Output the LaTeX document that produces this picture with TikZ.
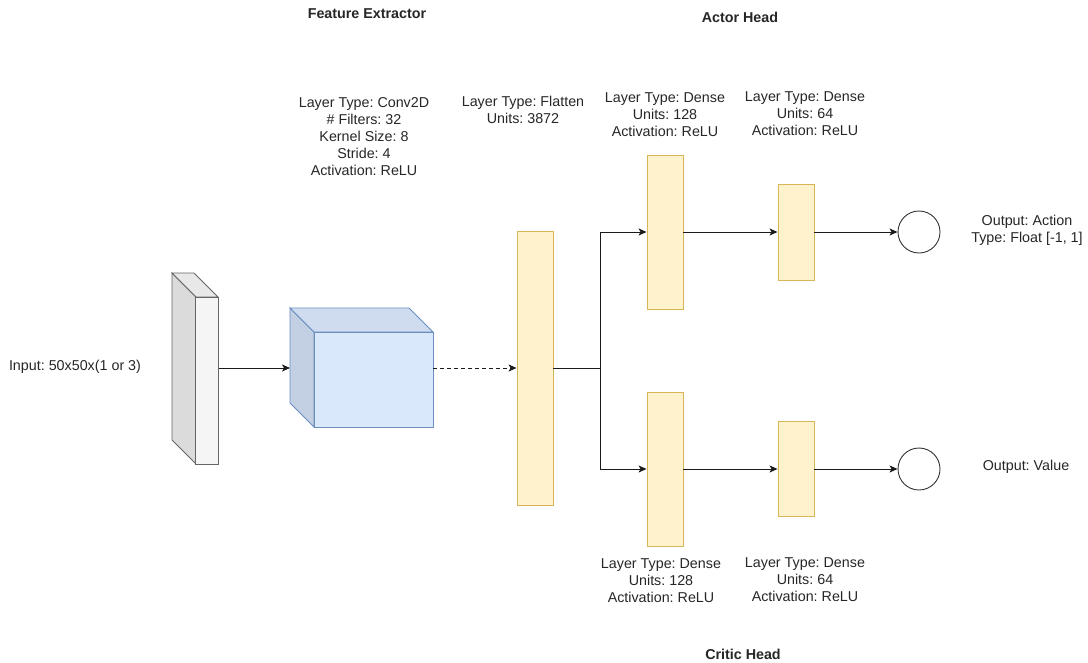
\documentclass[tikz,border=0pt]{standalone}
\usepackage{fontspec}
\setmainfont{Liberation Sans}
\usetikzlibrary{arrows.meta}
\frenchspacing
\definecolor{denseFill}{HTML}{FFF2CC}
\definecolor{denseLine}{HTML}{D6B656}
\definecolor{convFront}{HTML}{DAE8FC}
\definecolor{convTop}{HTML}{CFDCF0}
\definecolor{convSide}{HTML}{C3CFE2}
\definecolor{convLine}{HTML}{6C8EBF}
\definecolor{inFront}{HTML}{F5F5F5}
\definecolor{inTop}{HTML}{E8E8E8}
\definecolor{inSide}{HTML}{DBDBDB}
\definecolor{inLine}{HTML}{666666}
\definecolor{wire}{HTML}{1A1A1A}
\tikzset{
  lbl/.style={font=\fontsize{14.3}{17}\selectfont, align=center, text=black!85, inner sep=0pt},
  ttl/.style={font=\fontsize{14.3}{17}\selectfont\bfseries, text=black!85, inner sep=0pt},
  dense/.style={draw=denseLine, fill=denseFill, line width=0.9pt, minimum width=36pt, inner sep=0pt},
  outnode/.style={draw=black!80, circle, minimum size=42pt, inner sep=0pt, line width=0.9pt},
  wirestyle/.style={draw=wire, line width=1pt},
  arr/.style={wirestyle, -{Stealth[length=8pt,width=7pt,inset=2pt]}},
}
\begin{document}
\begin{tikzpicture}[x=1pt,y=-1pt]
\useasboundingbox (0,0) rectangle (1088,662);

% input tensor slab
\filldraw[fill=inSide, draw=inLine, line width=0.9pt] (172,273) -- (196,297) -- (196,464) -- (172,440) -- cycle;
\filldraw[fill=inTop, draw=inLine, line width=0.9pt] (172,273) -- (196,297) -- (218,297) -- (194,273) -- cycle;
\node[draw=inLine, fill=inFront, line width=0.9pt, minimum width=23pt, minimum height=167pt, inner sep=0pt] (inp) at (207,380.5) {};

% convolution volume
\filldraw[fill=convSide, draw=convLine, line width=0.9pt] (290,308) -- (314,332) -- (314,427) -- (290,403) -- cycle;
\filldraw[fill=convTop, draw=convLine, line width=0.9pt] (290,308) -- (314,332) -- (433,332) -- (409,308) -- cycle;
\node[draw=convLine, fill=convFront, line width=0.9pt, minimum width=119pt, minimum height=95pt, inner sep=0pt] (conv) at (373.5,379.5) {};
\coordinate (convIn) at (290,368);
\coordinate (convOut) at (433,368);

% dense layers
\node[dense, minimum height=274pt] (flat) at (535,368) {};
\node[dense, minimum height=154pt] (a1) at (665,232) {};
\node[dense, minimum height=96pt] (a2) at (796,232) {};
\node[dense, minimum height=154pt] (c1) at (665,469) {};
\node[dense, minimum height=95pt] (c2) at (796,469) {};

% outputs
\node[outnode] (oa) at (919,232) {};
\node[outnode] (oc) at (919,469) {};

% connectors
\draw[arr] (inp.east |- convIn) -- (convIn);
\draw[wirestyle, dashed, dash pattern=on 4pt off 3pt, -{Stealth[length=8pt,width=7pt,inset=2pt]}] (convOut) -- (flat.west |- convOut);
\coordinate (split) at (600,368);
\draw[wirestyle] (flat.east |- split) -- (split);
\draw[arr] (split) |- (a1.west);
\draw[arr] (split) |- (c1.west);
\draw[arr] (a1.east) -- (a2.west);
\draw[arr] (a2.east) -- (oa.west);
\draw[arr] (c1.east) -- (c2.west);
\draw[arr] (c2.east) -- (oc.west);

% titles
\node[ttl] (tfe) at (367,14) {Feature Extractor};
\node[ttl] (tah) at (740,17) {Actor Head};
\node[ttl] (tch) at (743,654) {Critic Head};

% labels
\node[lbl] (linp) at (75,367) {Input: 50x50x(1 or 3)};
\node[lbl] (lconv) at (364,136.5) {Layer Type: Conv2D\\\# Filters: 32\\Kernel Size: 8\\Stride: 4\\Activation: ReLU};
\node[lbl] (lflat) at (523,110) {Layer Type: Flatten\\Units: 3872};
\node[lbl] (la1) at (665,115) {Layer Type: Dense\\Units: 128\\Activation: ReLU};
\node[lbl] (la2) at (805,114) {Layer Type: Dense\\Units: 64\\Activation: ReLU};
\node[lbl] (lc1) at (661,581) {Layer Type: Dense\\Units: 128\\Activation: ReLU};
\node[lbl] (lc2) at (805,580) {Layer Type: Dense\\Units: 64\\Activation: ReLU};
\node[lbl] (loa) at (1027,230.5) {Output: Action\\Type: Float [-1, 1]};
\node[lbl] (loc) at (1026,467) {Output: Value};
\end{tikzpicture}
\end{document}
